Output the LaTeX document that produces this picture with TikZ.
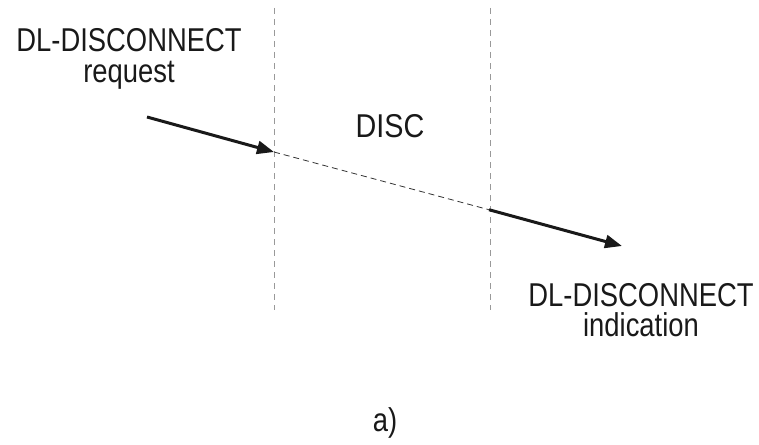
\documentclass[tikz,border=0pt]{standalone}
\usepackage{fontspec}
\setmainfont{Liberation Sans}[FakeStretch=0.83]
\usetikzlibrary{arrows.meta}
\begin{document}
\begin{tikzpicture}[x=1pt,y=-1pt,
  lbl/.style={inner sep=0pt,align=center,font=\fontsize{33}{30.5}\selectfont,text=black!90},
  sig/.style={line width=3pt,-{Triangle[length=17pt,width=13pt]},black!90},
  mid/.style={line width=0.8pt,dash pattern=on 6pt off 4pt,black!80},
  bound/.style={line width=0.8pt,dash pattern=on 6pt off 5pt,black!40}]
\useasboundingbox (0,0) rectangle (759,444);
\coordinate (v1t) at (274,8); \coordinate (v1b) at (274,310);
\coordinate (v2t) at (490,8); \coordinate (v2b) at (490,310);
\draw[bound] (v1t) -- (v1b);
\draw[bound] (v2t) -- (v2b);
\coordinate (a1s) at (147,117);
\coordinate (a1e) at (274,152);
\coordinate (a2s) at (490,210);
\coordinate (a2e) at (622,246);
\draw[sig] (a1s) -- (a1e);
\draw[mid] (a1e) -- (a2s);
\draw[sig, shorten <=-1pt] (a2s) -- (a2e);
\node[lbl] (req) at (129,59) {DL-DISCONNECT\\request};
\node[lbl, xscale=1.05] (disc) at (390,126) {DISC};
\node[lbl] (ind) at (641,310) {DL-DISCONNECT\\indication};
\node[lbl] (cap) at (385,423) {a)};
\end{tikzpicture}
\end{document}
